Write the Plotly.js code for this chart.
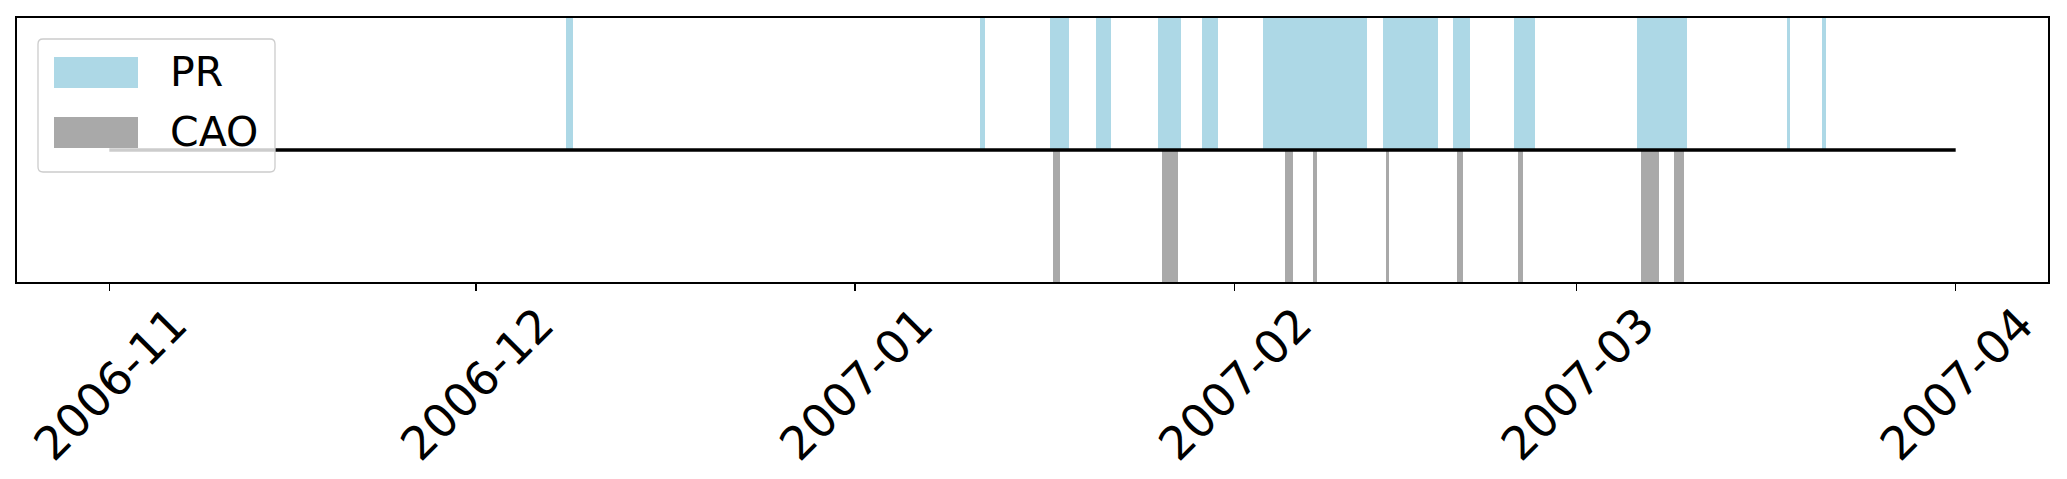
<!DOCTYPE html>
<html>
<head>
<meta charset="utf-8">
<script src="https://cdn.plot.ly/plotly-3.0.1.min.js"></script>
<style>
  body { margin: 0; background: #fff; }
  #chart { width: 2067px; height: 479px; }
</style>
</head>
<body>
<div id="chart"></div>
<script>
// PR episodes (light blue, above the line) - start / end times
var prStart = ['2006-12-08T08:40', '2007-01-11T04:00', '2007-01-16T22:30', '2007-01-20T17:00',
               '2007-01-25T18:00', '2007-01-29T09:00', '2007-02-03T09:00', '2007-02-13T03:20',
               '2007-02-18T20:40', '2007-02-23T20:20', '2007-03-05T23:20', '2007-03-18T05:30',
               '2007-03-21T01:40'];
var prEnd   = ['2006-12-08T21:40', '2007-01-11T15:00', '2007-01-18T12:30', '2007-01-21T22:20',
               '2007-01-27T14:30', '2007-01-30T16:20', '2007-02-11T20:00', '2007-02-17T15:20',
               '2007-02-20T06:40', '2007-02-25T15:00', '2007-03-10T00:00', '2007-03-18T10:50',
               '2007-03-21T09:40'];

// CAO episodes (grey, below the line)
var caoStart = ['2007-01-17T04:50', '2007-01-26T01:40', '2007-02-05T03:50', '2007-02-07T10:50',
                '2007-02-13T09:50', '2007-02-19T04:30', '2007-02-24T05:00', '2007-03-06T05:50',
                '2007-03-08T23:30'];
var caoEnd   = ['2007-01-17T18:10', '2007-01-27T08:50', '2007-02-05T20:10', '2007-02-07T17:50',
                '2007-02-13T16:30', '2007-02-19T17:50', '2007-02-24T14:10', '2007-03-07T18:30',
                '2007-03-09T17:50'];

// baseline
var lineDates = ['2006-11-01', '2007-04-01'];
var lineValues = [0, 0];

var legendNames = ['PR', 'CAO'];
var colors = ['#add8e6', '#a9a9a9'];

function ms(s) { return Date.parse(s + 'Z'); }

function spanTrace(starts, ends, top, color, name) {
    var mids = starts.map((s, i) => (ms(s) + ms(ends[i])) / 2);
    var widths = starts.map((s, i) => ms(ends[i]) - ms(s));
    return {
        type: 'bar',
        x: mids,
        y: starts.map(() => top),
        base: 0,
        width: widths,
        marker: {color: color, line: {width: 0}},
        name: name,
        showlegend: false,
        hoverinfo: 'skip'
    };
}

var prTrace = spanTrace(prStart, prEnd, 1, colors[0], legendNames[0]);
var caoTrace = spanTrace(caoStart, caoEnd, -1, colors[1], legendNames[1]);
var lineTrace = {
    type: 'scatter',
    mode: 'lines',
    x: lineDates,
    y: lineValues,
    line: {color: 'black', width: 3.5},
    showlegend: false,
    hoverinfo: 'skip'
};

// plot area in pixels: x 17..2048, y 18..282
var L = 17, R = 2048, T = 18, B = 282;
function px(x) { return (x - L) / (R - L); }
function py(y) { return (B - y) / (B - T); }

// legend box with rounded corners, drawn by hand (matplotlib style)
function roundRect(x0, y0, x1, y1, r) {
    return 'M' + px(x0 + r) + ',' + py(y0) +
        ' L' + px(x1 - r) + ',' + py(y0) +
        ' Q' + px(x1) + ',' + py(y0) + ' ' + px(x1) + ',' + py(y0 + r) +
        ' L' + px(x1) + ',' + py(y1 - r) +
        ' Q' + px(x1) + ',' + py(y1) + ' ' + px(x1 - r) + ',' + py(y1) +
        ' L' + px(x0 + r) + ',' + py(y1) +
        ' Q' + px(x0) + ',' + py(y1) + ' ' + px(x0) + ',' + py(y1 - r) +
        ' L' + px(x0) + ',' + py(y0 + r) +
        ' Q' + px(x0) + ',' + py(y0) + ' ' + px(x0 + r) + ',' + py(y0) + ' Z';
}

var shapes = [
    {type: 'path', xref: 'paper', yref: 'paper', layer: 'above',
     path: roundRect(38, 39, 275, 172, 5),
     fillcolor: 'rgba(255,255,255,0.8)', line: {color: '#cccccc', width: 1.3}},
    {type: 'rect', xref: 'paper', yref: 'paper', layer: 'above',
     x0: px(54), x1: px(138), y0: py(57), y1: py(88),
     fillcolor: colors[0], line: {width: 0}},
    {type: 'rect', xref: 'paper', yref: 'paper', layer: 'above',
     x0: px(54), x1: px(138), y0: py(117), y1: py(148),
     fillcolor: colors[1], line: {width: 0}}
];

var annotations = legendNames.map((n, i) => ({
    xref: 'paper', yref: 'paper',
    x: px(168), y: py(i === 0 ? 72 : 132),
    xanchor: 'left', yanchor: 'middle',
    text: n, showarrow: false,
    font: {family: 'DejaVu Sans', size: 41, color: 'black'}
}));

var layout = {
    width: 2067,
    height: 479,
    margin: {l: L, r: 2067 - R, t: T, b: 479 - B, pad: 0},
    paper_bgcolor: 'white',
    plot_bgcolor: 'white',
    barmode: 'overlay',
    bargap: 0,
    showlegend: false,
    font: {family: 'DejaVu Sans', color: 'black'},
    xaxis: {
        type: 'date',
        range: ['2006-10-24 10:48', '2007-04-08 13:12'],
        tick0: '2006-11-01',
        dtick: 'M1',
        tickformat: '%Y-%m',
        tickangle: -45,
        ticks: 'outside',
        ticklen: 7,
        tickwidth: 1.5,
        tickcolor: 'black',
        ticklabelshift: 64,
        ticklabelstandoff: -12,
        tickfont: {family: 'DejaVu Sans', size: 46, color: 'black'},
        showgrid: false,
        zeroline: false,
        showline: true,
        linecolor: 'black',
        linewidth: 1.8,
        mirror: true
    },
    yaxis: {
        range: [-1, 1],
        showticklabels: false,
        ticks: '',
        showgrid: false,
        zeroline: false,
        showline: true,
        linecolor: 'black',
        linewidth: 1.8,
        mirror: true
    },
    shapes: shapes,
    annotations: annotations
};

Plotly.newPlot('chart', [prTrace, caoTrace, lineTrace], layout, {displayModeBar: false, staticPlot: true});
</script>
</body>
</html>
